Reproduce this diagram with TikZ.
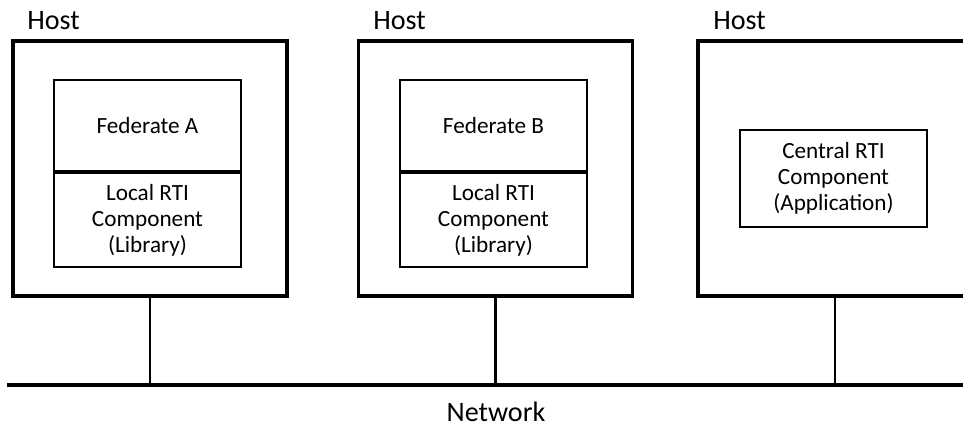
\documentclass[tikz,border=0pt]{standalone}
\usepackage{fontspec}
\setmainfont{Carlito}
\usetikzlibrary{%
  positioning,
  calc,
}

\begin{document}
\begin{tikzpicture}[%
           x=0.025cm, y=-0.025cm,
           host/.style={
             % The outer box of a machine:
             rectangle,
             minimum width=6.85cm,
             minimum height=6.38cm,
             line width=2.6pt,
             draw=black,
           },
           part/.style={
             % The boxes inside a host:
             rectangle,
             minimum width=4.675cm,
             line width=1.6pt,
             draw=black,
             align=center,
             font=\fontsize{16.5}{18.5}\selectfont,
           },
           title/.style={
             inner sep=0pt,
             font=\fontsize{20}{24}\selectfont,
           },
           wire/.style={
             line width=1.6pt,
           },
           bus/.style={
             line width=2.4pt,
           }]

         \useasboundingbox (0,0) rectangle (963,428);

         % the three hosts
         \node[host] (hostA) at (150,168.5) {};
         \node[host] (hostB) at (495.5,168.5) {};
         \node[host] (hostC) at (835,168.5) {};

         \node[title, anchor=base west] (titleA) at (27,29) {Host};
         \node[title, anchor=base west] (titleB) at (373,29) {Host};
         \node[title, anchor=base west] (titleC) at (713,29) {Host};

         % federates with their local RTI components
         \node[part, minimum height=2.35cm] (localA) at (147.5,220) {Local RTI\\Component\\(Library)};
         \node[part, minimum height=2.275cm] (fedA) [above=0pt of localA] {Federate A};
         \node[part, minimum height=2.35cm] (localB) at (493.5,220) {Local RTI\\Component\\(Library)};
         \node[part, minimum height=2.275cm] (fedB) [above=0pt of localB] {Federate B};

         % central RTI
         \node[part, minimum height=2.42cm] (central) at (833.5,178.5) {Central RTI\\Component\\(Application)};

         % the network
         \coordinate (netL) at (7,385);
         \coordinate (netR) at (975,385);
         \draw[bus] (netL) -- (netR);
         \node[title] (network) at (496,412) {Network};

         \draw[wire] (hostA.south) -- (hostA.south |- netL);
         \draw[wire] (hostB.south) -- (hostB.south |- netL);
         \draw[wire] (hostC.south) -- (hostC.south |- netL);
       \end{tikzpicture}
\end{document}
